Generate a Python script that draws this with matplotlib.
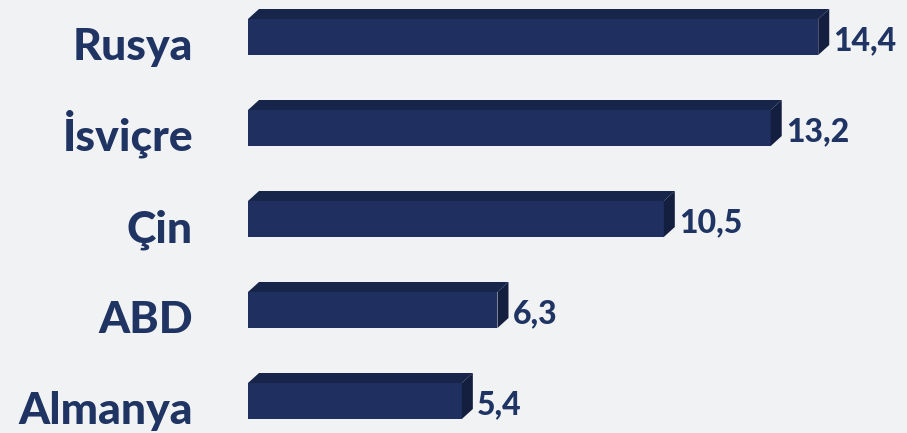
import matplotlib.pyplot as plt
from matplotlib.patches import Polygon

# data
countries = ['Rusya', 'İsviçre', 'Çin', 'ABD', 'Almanya']
values = [14.4, 13.2, 10.5, 6.3, 5.4]
value_labels = ['14,4', '13,2', '10,5', '6,3', '5,4']

text_color = '#1F3462'
front_color = '#1F3060'
top_color = '#17254B'
side_color = '#141F40'

fig = plt.figure(figsize=(9.07, 4.33), dpi=100, facecolor='#F1F2F4')
# axes starts where the bars start (x=248px) and spans full height
ax = fig.add_axes([248 / 907, 0, 1 - 248 / 907, 1])
ax.set_facecolor('none')

px_per_unit = 39.6
ax.set_xlim(0, (907 - 248) / px_per_unit)
ax.set_ylim(433 / 91 - 37 / 91, -37 / 91)

h = 36 / 91
dx = 11 / px_per_unit
dy = 10 / 91

ypos = list(range(len(countries)))
ax.barh(ypos, values, height=h, color=front_color, zorder=2)

for i, v in zip(ypos, values):
    t = i - h / 2
    b = i + h / 2
    top = Polygon([(0, t), (v, t), (v + dx, t - dy), (dx, t - dy)],
                  closed=True, facecolor=top_color, edgecolor='none', zorder=3)
    side = Polygon([(v, t), (v + dx, t - dy), (v + dx, b - dy), (v, b)],
                   closed=True, facecolor=side_color, edgecolor='none', zorder=3)
    ax.add_patch(top)
    ax.add_patch(side)

for i, (c, v, lab) in enumerate(zip(countries, values, value_labels)):
    ax.annotate(c, xy=(0, i), xytext=(-55 * 0.72, -23 * 0.72),
                textcoords='offset points', ha='right', va='baseline',
                fontsize=32, fontweight='black', family='Lato',
                color=text_color, annotation_clip=False)
    ax.annotate(lab, xy=(v, i), xytext=(15 * 0.72, -13 * 0.72),
                textcoords='offset points', ha='left', va='baseline',
                fontsize=23, fontweight='black', family='Lato',
                color=text_color, annotation_clip=False)

ax.axis('off')

plt.savefig('out.png', dpi=100, facecolor=fig.get_facecolor())
